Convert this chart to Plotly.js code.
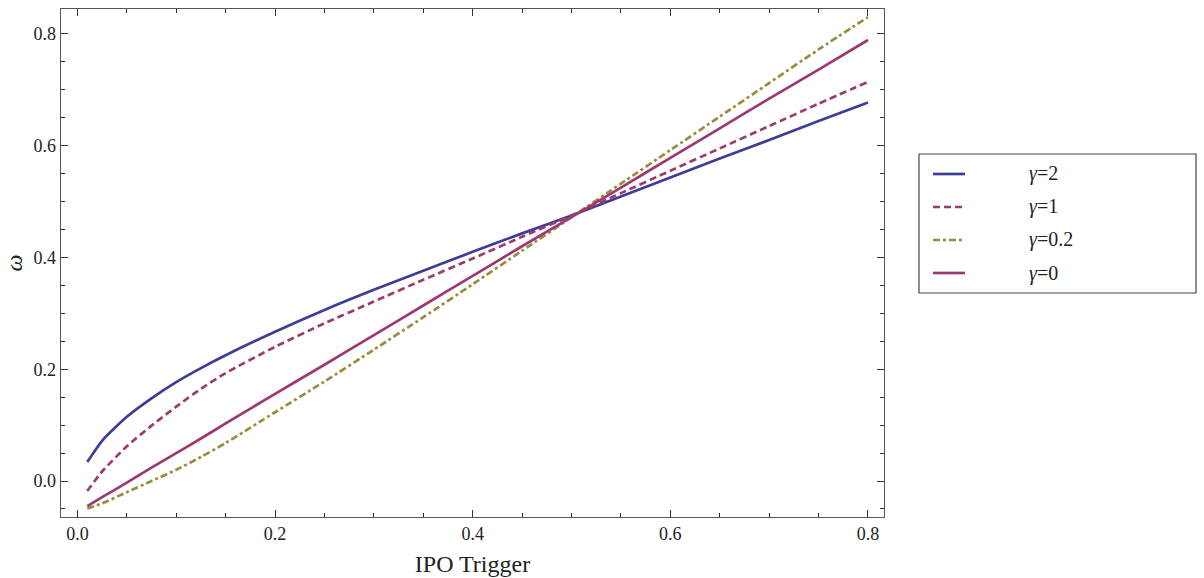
<!DOCTYPE html>
<html>
<head>
<meta charset="utf-8">
<script src="https://cdn.plot.ly/plotly-3.0.1.min.js"></script>
<style>html,body{margin:0;padding:0;background:#fff;}#chart{width:1204px;height:578px;}</style>
</head>
<body>
<div id="chart"></div>
<script>
const xTrigger = [0.01, 0.025, 0.05, 0.075, 0.1, 0.125, 0.15, 0.2, 0.25, 0.3, 0.35, 0.4, 0.45, 0.5, 0.55, 0.6, 0.65, 0.7, 0.75, 0.8];
const omegaGamma2 = [0.034, 0.072, 0.115, 0.148, 0.177, 0.202, 0.225, 0.267, 0.306, 0.342, 0.376, 0.41, 0.443, 0.475, 0.509, 0.543, 0.577, 0.61, 0.644, 0.677];
const omegaGamma1 = [-0.018, 0.017, 0.062, 0.099, 0.133, 0.165, 0.193, 0.24, 0.282, 0.321, 0.36, 0.398, 0.437, 0.475, 0.515, 0.555, 0.595, 0.635, 0.675, 0.714];
const omegaGamma02 = [-0.049, -0.04, -0.02, 0.0, 0.02, 0.043, 0.068, 0.123, 0.178, 0.235, 0.293, 0.352, 0.412, 0.472, 0.532, 0.592, 0.652, 0.712, 0.772, 0.83];
const omegaGamma0 = [-0.045, -0.029, -0.003, 0.024, 0.05, 0.076, 0.103, 0.156, 0.208, 0.261, 0.314, 0.367, 0.42, 0.472, 0.525, 0.578, 0.631, 0.684, 0.736, 0.789];
const seriesNames = ['<i>γ</i>=2', '<i>γ</i>=1', '<i>γ</i>=0.2', '<i>γ</i>=0'];
const xTickVals = [0.0, 0.2, 0.4, 0.6, 0.8];
const xTickText = ['0.0', '0.2', '0.4', '0.6', '0.8'];
const yTickVals = [0.0, 0.2, 0.4, 0.6, 0.8];
const yTickText = ['0.0', '0.2', '0.4', '0.6', '0.8'];

const serif = '"Liberation Serif", "Times New Roman", serif';
const styles = [
  {color: '#3d3d99', dash: 'solid'},
  {color: '#993d71', dash: '7px,4px'},
  {color: '#998c3d', dash: '7px,3px,3px,3px'},
  {color: '#9b3a72', dash: 'solid'}
];
const ys = [omegaGamma2, omegaGamma1, omegaGamma02, omegaGamma0];
const traces = ys.map((y, i) => ({
  x: xTrigger, y: y, type: 'scatter', mode: 'lines', name: seriesNames[i],
  showlegend: false,
  line: {color: styles[i].color, dash: styles[i].dash, width: 2.7, shape: 'spline', smoothing: 0.6}
}));

// Legend drawn in paper coordinates (box, line samples, labels)
const legRowsY = [0.6752, 0.61024, 0.54528, 0.48031];
const shapes = [{
  type: 'rect', xref: 'paper', yref: 'paper',
  x0: 1.04253, x1: 1.3791, y0: 0.44094, y1: 0.71457,
  line: {color: '#444', width: 1.2}, fillcolor: 'rgba(0,0,0,0)'
}];
const annotations = [];
seriesNames.forEach((name, i) => {
  shapes.push({
    type: 'line', xref: 'paper', yref: 'paper',
    x0: 1.05954, x1: 1.09842, y0: legRowsY[i], y1: legRowsY[i],
    line: {color: styles[i].color, dash: styles[i].dash, width: 2.7}
  });
  annotations.push({
    xref: 'paper', yref: 'paper', x: 1.17375, y: legRowsY[i],
    xanchor: 'left', yanchor: 'middle', showarrow: false, text: name,
    font: {family: serif, size: 20, color: '#222'}
  });
});

const minorTicks = {dtick: 0.05, tick0: 0, ticks: 'inside', ticklen: 4, tickwidth: 1, tickcolor: '#333', showgrid: false};
const axisCommon = {
  showgrid: false, zeroline: false, showline: true, linecolor: '#555', linewidth: 1.3,
  mirror: 'allticks', ticks: 'inside', ticklen: 7, tickwidth: 1, tickcolor: '#333',
  tickfont: {family: serif, size: 18, color: '#222'},
  minor: minorTicks
};

const layout = {
  width: 1204, height: 578,
  margin: {l: 61, r: 320, t: 9, b: 61},
  paper_bgcolor: '#fff', plot_bgcolor: '#fff',
  showlegend: false,
  xaxis: Object.assign({}, axisCommon, {
    range: [-0.0166, 0.8162], tickmode: 'array', tickvals: xTickVals, ticktext: xTickText,
    title: {text: 'IPO Trigger', font: {family: serif, size: 24, color: '#222'}, standoff: 12}
  }),
  yaxis: Object.assign({}, axisCommon, {
    range: [-0.0644, 0.8444], tickmode: 'array', tickvals: yTickVals, ticktext: yTickText,
    title: {text: '<i>ω</i>', font: {family: serif, size: 24, color: '#222'}, standoff: 4}
  }),
  shapes: shapes,
  annotations: annotations
};

Plotly.newPlot('chart', traces, layout, {displayModeBar: false, staticPlot: true});
</script>
</body>
</html>
